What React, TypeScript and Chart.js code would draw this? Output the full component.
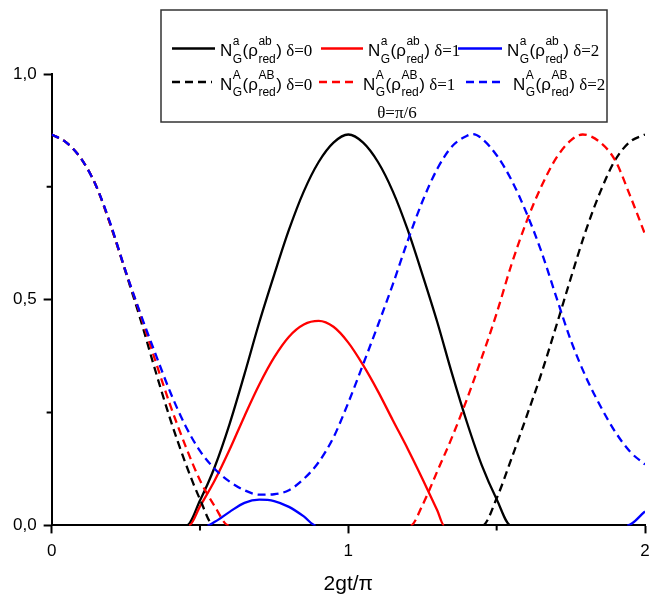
import React, { useEffect, useRef } from 'react';
import { Chart, registerables } from 'chart.js';

Chart.register(...registerables);

// ---------- data ----------
const X_TITLE = '2gt/π';
const THETA_NOTE = 'θ=π/6';

// N_G^a(rho_red^ab), delta = 0 (black solid)
const blackSolidX = [0, 0.455, 0.5, 0.55, 0.6, 0.65, 0.7, 0.75, 0.8, 0.85, 0.9, 0.95, 1.0, 1.05, 1.1, 1.15, 1.2, 1.25, 1.3, 1.35, 1.4, 1.45, 1.5, 1.548, 2.0];
const blackSolidY = [0, 0, 0.055, 0.13, 0.225, 0.335, 0.45, 0.555, 0.655, 0.74, 0.805, 0.848, 0.866, 0.848, 0.805, 0.74, 0.655, 0.555, 0.45, 0.335, 0.228, 0.133, 0.058, 0, 0];

// N_G^a(rho_red^ab), delta = 1 (red solid)
const redSolidX = [0, 0.463, 0.5, 0.55, 0.6, 0.65, 0.7, 0.75, 0.8, 0.85, 0.9, 0.95, 1.0, 1.05, 1.1, 1.15, 1.2, 1.25, 1.3, 1.323, 2.0];
const redSolidY = [0, 0, 0.042, 0.1, 0.168, 0.242, 0.312, 0.372, 0.418, 0.445, 0.453, 0.44, 0.405, 0.355, 0.297, 0.233, 0.17, 0.103, 0.033, 0, 0];

// N_G^a(rho_red^ab), delta = 2 (blue solid)
const blueSolidX = [0, 0.525, 0.55, 0.6, 0.65, 0.7, 0.75, 0.8, 0.85, 0.89, 1.94, 2.0];
const blueSolidY = [0, 0, 0.008, 0.03, 0.05, 0.057, 0.054, 0.041, 0.02, 0, 0, 0.031];

// N_G^A(rho_red^AB), delta = 0 (black dashed)
const blackDashX = [0, 0.05, 0.1, 0.15, 0.2, 0.25, 0.3, 0.35, 0.4, 0.45, 0.5, 0.547, 1.452, 1.5, 1.55, 1.6, 1.65, 1.7, 1.75, 1.8, 1.85, 1.9, 1.95, 2.0];
const blackDashY = [0.866, 0.848, 0.812, 0.752, 0.662, 0.56, 0.455, 0.342, 0.235, 0.14, 0.058, 0, 0, 0.06, 0.148, 0.24, 0.335, 0.44, 0.548, 0.652, 0.74, 0.81, 0.85, 0.866];

// N_G^A(rho_red^AB), delta = 1 (red dashed)
const redDashX = [0, 0.05, 0.1, 0.15, 0.2, 0.25, 0.3, 0.35, 0.4, 0.45, 0.5, 0.55, 0.597, 1.21, 1.25, 1.3, 1.35, 1.4, 1.45, 1.5, 1.55, 1.6, 1.65, 1.7, 1.75, 1.79, 1.85, 1.9, 1.95, 2.0];
const redDashY = [0.866, 0.848, 0.812, 0.752, 0.663, 0.562, 0.465, 0.364, 0.266, 0.178, 0.1, 0.042, 0, 0, 0.045, 0.12, 0.196, 0.28, 0.372, 0.47, 0.578, 0.672, 0.75, 0.813, 0.853, 0.866, 0.848, 0.808, 0.73, 0.645];

// N_G^A(rho_red^AB), delta = 2 (blue dashed)
const blueDashX = [0, 0.05, 0.1, 0.15, 0.2, 0.25, 0.3, 0.35, 0.4, 0.45, 0.5, 0.55, 0.6, 0.65, 0.7, 0.75, 0.8, 0.85, 0.9, 0.95, 1.0, 1.05, 1.1, 1.15, 1.2, 1.25, 1.3, 1.35, 1.4, 1.42, 1.45, 1.5, 1.55, 1.6, 1.65, 1.7, 1.75, 1.8, 1.85, 1.9, 1.95, 2.0];
const blueDashY = [0.866, 0.848, 0.812, 0.752, 0.665, 0.562, 0.468, 0.38, 0.295, 0.222, 0.165, 0.125, 0.097, 0.078, 0.068, 0.069, 0.078, 0.103, 0.14, 0.195, 0.272, 0.357, 0.444, 0.534, 0.63, 0.718, 0.79, 0.84, 0.863, 0.867, 0.857, 0.82, 0.765, 0.693, 0.608, 0.508, 0.41, 0.33, 0.264, 0.207, 0.163, 0.135];

// legend content
const legendSup = ['a', 'a', 'a', 'A', 'A', 'A'];
const legendSup2 = ['ab', 'ab', 'ab', 'AB', 'AB', 'AB'];
const legendTail = ['δ=0', 'δ=1', 'δ=2', 'δ=0', 'δ=1', 'δ=2'];
const seriesColors = ['#000000', '#ff0000', '#0000ff', '#000000', '#ff0000', '#0000ff'];
const seriesDashed = [false, false, false, true, true, true];

const SANS = '"Liberation Sans", Arial, sans-serif';
const SERIF = '"Liberation Serif", "Times New Roman", serif';
const DASH = [8, 5];
const LINE_W = 2.3;

const pts = (xs: number[], ys: number[]) => xs.map((x, i) => ({ x, y: ys[i] }));

function drawLegendLabel(ctx: CanvasRenderingContext2D, x: number, base: number, sup1: string, sup2: string, tail: string) {
  ctx.textAlign = 'left';
  ctx.textBaseline = 'alphabetic';
  ctx.fillStyle = '#000';
  ctx.font = '17px ' + SANS;
  ctx.fillText('N', x, base);
  x += ctx.measureText('N').width + 0.5;
  ctx.font = '12px ' + SANS;
  ctx.fillText(sup1, x, base - 11);
  ctx.fillText('G', x, base + 6.5);
  x += Math.max(ctx.measureText(sup1).width, ctx.measureText('G').width) + 0.5;
  ctx.font = '17px ' + SANS;
  ctx.fillText('(ρ', x, base);
  x += ctx.measureText('(ρ').width + 0.5;
  ctx.font = '12px ' + SANS;
  ctx.fillText(sup2, x, base - 11);
  ctx.fillText('red', x, base + 6.5);
  x += Math.max(ctx.measureText(sup2).width, ctx.measureText('red').width) + 0.5;
  ctx.font = '17px ' + SANS;
  ctx.fillText(')', x, base);
  x += ctx.measureText(')').width;
  ctx.font = '17px ' + SERIF;
  ctx.fillText(' ' + tail, x, base);
}

const legendPlugin = {
  id: 'customLegend',
  afterDraw(chart: any) {
    const ctx: CanvasRenderingContext2D = chart.ctx;
    ctx.save();
    ctx.fillStyle = '#fff';
    ctx.fillRect(161, 10, 446, 112);
    ctx.strokeStyle = '#333';
    ctx.lineWidth = 1.5;
    ctx.setLineDash([]);
    ctx.strokeRect(161, 10, 446, 112);
    const lineSeg = [[172, 215], [321, 363], [458, 502], [172, 212], [319, 357], [466, 505]];
    const textX = [220, 368, 507, 220, 363, 513];
    const bases = [56, 56, 56, 89.5, 89.5, 89.5];
    for (let i = 0; i < 6; i++) {
      ctx.beginPath();
      ctx.strokeStyle = seriesColors[i];
      ctx.lineWidth = LINE_W;
      ctx.setLineDash(seriesDashed[i] ? DASH : []);
      const ly = bases[i] - 7.5;
      ctx.moveTo(lineSeg[i][0], ly);
      ctx.lineTo(lineSeg[i][1], ly);
      ctx.stroke();
      ctx.setLineDash([]);
      drawLegendLabel(ctx, textX[i], bases[i], legendSup[i], legendSup2[i], legendTail[i]);
    }
    ctx.font = '17px ' + SERIF;
    ctx.textAlign = 'center';
    ctx.fillStyle = '#000';
    ctx.fillText(THETA_NOTE, 397, 117.5);
    ctx.restore();
  },
};

const minorTickPlugin = {
  id: 'minorTicks',
  afterDraw(chart: any) {
    const ctx: CanvasRenderingContext2D = chart.ctx;
    const xs = chart.scales.x;
    const ys = chart.scales.y;
    const area = chart.chartArea;
    ctx.save();
    ctx.strokeStyle = '#000';
    ctx.lineWidth = 2;
    ctx.setLineDash([]);
    ctx.beginPath();
    xs.ticks.forEach((t: any) => {
      if (!Number.isInteger(t.value)) {
        const px = xs.getPixelForValue(t.value);
        ctx.moveTo(px, area.bottom);
        ctx.lineTo(px, area.bottom + 5);
      }
    });
    ys.ticks.forEach((t: any) => {
      if (Math.abs(t.value * 2 - Math.round(t.value * 2)) > 1e-6) {
        const py = ys.getPixelForValue(t.value);
        ctx.moveTo(area.left, py);
        ctx.lineTo(area.left - 5, py);
      }
    });
    ctx.stroke();
    ctx.restore();
  },
};

function makeDataset(label: string, xs: number[], ys: number[], color: string, dashed: boolean) {
  return {
    label,
    data: pts(xs, ys),
    borderColor: color,
    backgroundColor: color,
    borderWidth: LINE_W,
    borderDash: dashed ? DASH : [],
    pointRadius: 0,
    fill: false,
    cubicInterpolationMode: 'monotone' as const,
    segment: {
      borderColor: (c: any) => (c.p0.parsed.y === 0 && c.p1.parsed.y === 0 ? 'rgba(0,0,0,0)' : undefined),
    },
  };
}

export default function App() {
  const ref = useRef<HTMLCanvasElement | null>(null);
  useEffect(() => {
    if (!ref.current) return;
    const chart = new Chart(ref.current, {
      type: 'line',
      data: {
        datasets: [
          makeDataset('NA d2', blueDashX, blueDashY, '#0000ff', true),
          makeDataset('NA d1', redDashX, redDashY, '#ff0000', true),
          makeDataset('NA d0', blackDashX, blackDashY, '#000000', true),
          makeDataset('Na d2', blueSolidX, blueSolidY, '#0000ff', false),
          makeDataset('Na d1', redSolidX, redSolidY, '#ff0000', false),
          makeDataset('Na d0', blackSolidX, blackSolidY, '#000000', false),
        ],
      },
      options: {
        responsive: false,
        animation: false,
        devicePixelRatio: 1,
        layout: { padding: { left: 6, right: 15, top: 74, bottom: 3 } },
        plugins: { legend: { display: false }, tooltip: { enabled: false } },
        elements: { point: { radius: 0 } },
        scales: {
          x: {
            type: 'linear',
            min: 0,
            max: 2,
            ticks: {
              stepSize: 0.5,
              autoSkip: false,
              maxRotation: 0,
              padding: 8,
              color: '#000',
              font: { family: SANS, size: 17 },
              callback: (v: any) => (Number.isInteger(v) ? String(v) : ''),
            },
            grid: {
              display: true,
              drawOnChartArea: false,
              drawTicks: true,
              tickLength: 8,
              tickWidth: 2,
              tickColor: (c: any) => (c.tick && Number.isInteger(c.tick.value) ? '#000' : 'rgba(0,0,0,0)'),
            },
            border: { display: true, color: '#000', width: 2 },
            title: {
              display: true,
              text: X_TITLE,
              color: '#000',
              font: { family: SANS, size: 21 },
              padding: { top: 2, bottom: 0 },
            },
          },
          y: {
            type: 'linear',
            min: 0,
            max: 1,
            ticks: {
              stepSize: 0.25,
              autoSkip: false,
              padding: 7,
              color: '#000',
              font: { family: SANS, size: 17 },
              callback: (v: any) => (Math.abs(v * 2 - Math.round(v * 2)) < 1e-6 ? Number(v).toFixed(1).replace('.', ',') : ''),
            },
            grid: {
              display: true,
              drawOnChartArea: false,
              drawTicks: true,
              tickLength: 8,
              tickWidth: 2,
              tickColor: (c: any) => (c.tick && Math.abs(c.tick.value * 2 - Math.round(c.tick.value * 2)) < 1e-6 ? '#000' : 'rgba(0,0,0,0)'),
            },
            border: { display: true, color: '#000', width: 2 },
          },
        },
      },
      plugins: [minorTickPlugin, legendPlugin],
    });
    return () => chart.destroy();
  }, []);

  return (
    <div style={{ position: 'fixed', left: 0, top: 0, width: 649, height: 600, overflow: 'hidden', background: '#fff' }}>
      <canvas ref={ref} width={660} height={600} style={{ display: 'block' }} />
    </div>
  );
}
